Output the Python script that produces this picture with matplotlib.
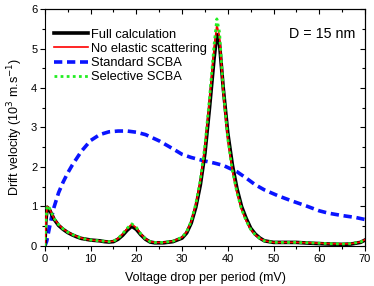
import matplotlib
matplotlib.use("Agg")
import matplotlib.pyplot as plt
from matplotlib.ticker import MultipleLocator

plt.rcParams['font.family'] = ['Liberation Sans', 'DejaVu Sans']

# Full calculation
x_full = [0, 0.2, 0.5, 1, 1.5, 2, 3, 4, 5, 6, 7, 8, 9, 10, 11, 12, 13, 14, 15, 16,
          17, 18, 19, 20, 21, 22, 23, 24, 26, 28, 30, 31, 32, 33, 34, 35, 36, 37,
          37.6, 38.2, 39, 40, 41, 42, 43, 44, 45, 46, 47, 48, 50, 52, 55, 58, 60,
          62, 65, 67, 69, 70]
y_full = [0.0, 0.6, 0.98, 0.92, 0.8, 0.68, 0.52, 0.42, 0.34, 0.28, 0.23, 0.19, 0.17,
          0.15, 0.14, 0.13, 0.11, 0.1, 0.11, 0.17, 0.27, 0.4, 0.5, 0.42, 0.28, 0.17,
          0.1, 0.08, 0.08, 0.11, 0.2, 0.33, 0.58, 0.98, 1.55, 2.35, 3.5, 4.75,
          5.35, 5.1, 4.0, 2.85, 2.05, 1.45, 1.0, 0.7, 0.45, 0.3, 0.2, 0.13, 0.09,
          0.09, 0.09, 0.07, 0.06, 0.05, 0.04, 0.05, 0.09, 0.15]
# No elastic scattering
y_noel = [0.0, 0.62, 1.0, 0.95, 0.82, 0.7, 0.54, 0.43, 0.35, 0.29, 0.24, 0.2, 0.17,
          0.15, 0.14, 0.13, 0.12, 0.11, 0.12, 0.19, 0.3, 0.44, 0.55, 0.46, 0.3, 0.18,
          0.11, 0.09, 0.09, 0.12, 0.22, 0.36, 0.62, 1.05, 1.65, 2.5, 3.7, 5.0,
          5.6, 5.3, 3.9, 2.7, 1.9, 1.35, 0.93, 0.64, 0.42, 0.28, 0.19, 0.13, 0.09,
          0.09, 0.09, 0.08, 0.07, 0.06, 0.05, 0.06, 0.1, 0.16]
# Selective SCBA
y_sel = [0.0, 0.63, 1.02, 0.96, 0.83, 0.7, 0.54, 0.43, 0.35, 0.29, 0.24, 0.2, 0.17,
         0.15, 0.14, 0.13, 0.12, 0.11, 0.12, 0.19, 0.31, 0.45, 0.56, 0.47, 0.3, 0.18,
         0.11, 0.09, 0.09, 0.12, 0.22, 0.36, 0.63, 1.07, 1.68, 2.55, 3.75, 5.1,
         5.75, 5.4, 3.95, 2.7, 1.9, 1.35, 0.93, 0.64, 0.42, 0.28, 0.19, 0.13, 0.09,
         0.09, 0.09, 0.08, 0.07, 0.06, 0.05, 0.06, 0.1, 0.16]
# Standard SCBA
x_std = [0, 0.4, 0.8, 1.5, 2, 3, 4, 5, 6, 8, 10, 12, 14, 16, 18, 20, 22, 25, 28, 30,
         32, 35, 37, 39, 42, 44, 46, 48, 51, 54, 57, 60, 62, 65, 68, 70]
y_std = [0.0, 0.12, 0.35, 0.75, 0.98, 1.35, 1.62, 1.85, 2.05, 2.4, 2.67, 2.82, 2.89,
         2.91, 2.91, 2.88, 2.82, 2.66, 2.46, 2.32, 2.24, 2.15, 2.1, 2.04, 1.88,
         1.72, 1.55, 1.42, 1.27, 1.14, 1.02, 0.89, 0.83, 0.77, 0.72, 0.67]

xticks = [0, 10, 20, 30, 40, 50, 60, 70]
yticks = [0, 1, 2, 3, 4, 5, 6]

fig = plt.figure(figsize=(3.74, 2.86), dpi=100)
ax = fig.add_axes([0.12, 0.14, 0.856, 0.8285])

ax.plot(x_full, y_full, color='black', lw=2.6, label='Full calculation', zorder=3)
ax.plot(x_full, y_noel, color='red', lw=1.2, label='No elastic scattering', zorder=4)
ax.plot(x_std, y_std, color='#0a14ff', lw=2.6, dashes=(2.3, 1.3), label='Standard SCBA', zorder=2)
ax.plot(x_full, y_sel, color='#22ee22', lw=2.0, dashes=(1, 1.2), label='Selective SCBA', zorder=5)

ax.set_xlim(0, 70)
ax.set_ylim(0, 6)
ax.set_xticks(xticks)
ax.set_yticks(yticks)
ax.xaxis.set_minor_locator(MultipleLocator(5))
ax.yaxis.set_minor_locator(MultipleLocator(0.5))
ax.tick_params(which='both', direction='out', labelsize=8, width=0.8)
ax.tick_params(which='major', length=3.5)
ax.tick_params(which='minor', length=2)
ax.tick_params(axis='both', pad=2)

secx = ax.secondary_xaxis('top')
secx.set_xticks(xticks)
secx.xaxis.set_minor_locator(MultipleLocator(5))
secx.tick_params(which='both', direction='in', labeltop=False, width=0.8)
secx.tick_params(which='major', length=3.5)
secx.tick_params(which='minor', length=2)
secy = ax.secondary_yaxis('right')
secy.set_yticks(yticks)
secy.yaxis.set_minor_locator(MultipleLocator(0.5))
secy.tick_params(which='both', direction='in', labelright=False, width=0.8)
secy.tick_params(which='major', length=3.5)
secy.tick_params(which='minor', length=2)

for s in ax.spines.values():
    s.set_linewidth(0.8)

ax.set_xlabel('Voltage drop per period (mV)', fontsize=9, labelpad=6)
ax.set_ylabel('Drift velocity (10$^3$ m.s$^{-1}$)', fontsize=9, labelpad=4)

ax.legend(loc='upper left', frameon=False, fontsize=9.3, handlelength=2.6,
          handletextpad=0.25, labelspacing=0.17, borderaxespad=0.3,
          bbox_to_anchor=(0.0, 0.955))
ax.text(0.97, 0.925, 'D = 15 nm', transform=ax.transAxes, ha='right', va='top',
        fontsize=10.3)

fig.savefig('out.png', dpi=100)
